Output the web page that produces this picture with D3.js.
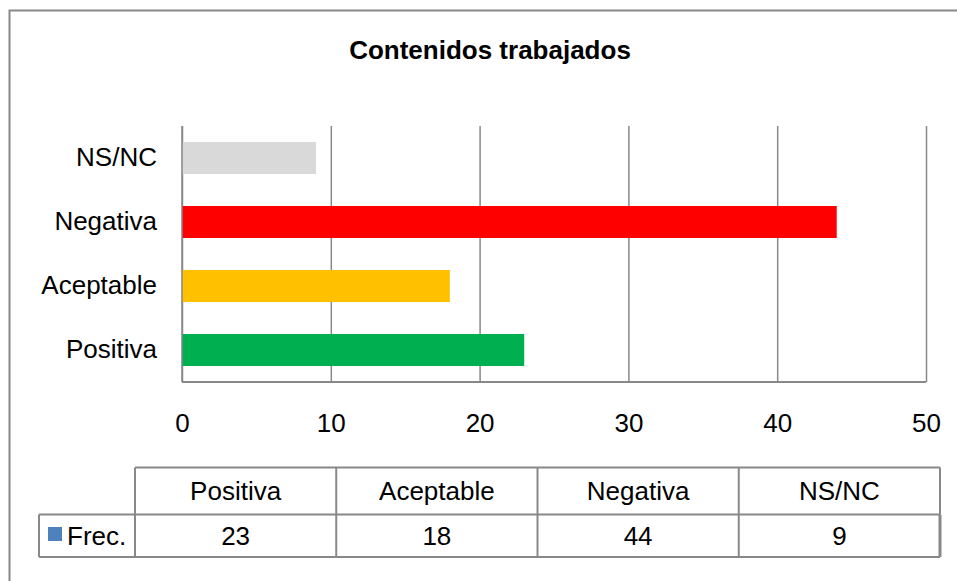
<!DOCTYPE html>
<html>
<head>
<meta charset="utf-8">
<script src="https://cdn.jsdelivr.net/npm/d3@7"></script>
<style>
  body { margin: 0; background: #fff; }
  svg { display: block; font-family: Arial, "Liberation Sans", sans-serif; }
</style>
</head>
<body>
<svg id="chart"></svg>
<script>
"use strict";

var categories = ["Positiva", "Aceptable", "Negativa", "NS/NC"];
var values = [23, 18, 44, 9];
var colors = ["#00B050", "#FFC000", "#FF0000", "#D9D9D9"];
var ticks = [0, 10, 20, 30, 40, 50];
var seriesName = "Frec.";
var title = "Contenidos trabajados";

var width = 957,
    height = 581;

var plot = { left: 182, right: 926, top: 126, bottom: 382 };
var table = { left: 135, right: 940, top: 467.5, mid: 514.5, bottom: 557, head: 39 };
var lineColor = "#888888";

var svg = d3.select("#chart").attr("width", width).attr("height", height);

svg.append("rect")
  .attr("width", width).attr("height", height)
  .attr("fill", "white");

// chart frame (only top and left show in the picture)
svg.append("rect")
  .attr("x", 9.5).attr("y", 10.5)
  .attr("width", 1000).attr("height", 1000)
  .attr("fill", "none")
  .attr("stroke", lineColor)
  .attr("stroke-width", 2);

svg.append("text")
  .attr("x", 490).attr("y", 59)
  .attr("text-anchor", "middle")
  .attr("font-size", 26)
  .attr("font-weight", "bold")
  .text(title);

var x = d3.scaleLinear().domain([0, 50]).range([plot.left, plot.right]);
var y = d3.scaleBand()
  .domain(categories.slice().reverse())
  .range([plot.top, plot.bottom])
  .paddingInner(0.5).paddingOuter(0.25);

// gridlines
var grid = svg.append("g")
  .attr("transform", "translate(0," + plot.bottom + ")")
  .call(d3.axisBottom(x).tickValues(ticks).tickSize(-(plot.bottom - plot.top)).tickFormat(""));
grid.select(".domain").remove();
grid.selectAll("line").attr("stroke", lineColor).attr("stroke-width", 1.5);

// bars
svg.append("g").selectAll("rect")
  .data(categories)
  .enter().append("rect")
  .attr("x", x(0))
  .attr("y", function(d){ return y(d); })
  .attr("width", function(d, i){ return x(values[i]) - x(0); })
  .attr("height", y.bandwidth())
  .attr("fill", function(d, i){ return colors[i]; });

// axis lines
svg.append("line")
  .attr("x1", plot.left).attr("x2", plot.left)
  .attr("y1", plot.top).attr("y2", plot.bottom)
  .attr("stroke", lineColor).attr("stroke-width", 1.5);
svg.append("line")
  .attr("x1", plot.left).attr("x2", plot.right)
  .attr("y1", plot.bottom).attr("y2", plot.bottom)
  .attr("stroke", lineColor).attr("stroke-width", 2);

// tick labels
var xAxis = svg.append("g")
  .attr("transform", "translate(0," + plot.bottom + ")")
  .call(d3.axisBottom(x).tickValues(ticks).tickSize(0).tickPadding(31.5));
xAxis.select(".domain").remove();
xAxis.selectAll("text").attr("font-size", 26).attr("font-family", null).attr("fill", "#000");

var yAxis = svg.append("g")
  .attr("transform", "translate(" + plot.left + ",0)")
  .call(d3.axisLeft(y).tickSize(0).tickPadding(25));
yAxis.select(".domain").remove();
yAxis.selectAll("text").attr("font-size", 26).attr("font-family", null).attr("fill", "#000");

// data table
var col = d3.scaleBand().domain(categories).range([table.left, table.right]);
var tg = svg.append("g").attr("stroke", lineColor).attr("stroke-width", 2);

tg.append("line").attr("x1", table.left).attr("x2", table.right).attr("y1", table.top).attr("y2", table.top);
tg.append("line").attr("x1", table.head).attr("x2", table.right).attr("y1", table.mid).attr("y2", table.mid);
tg.append("line").attr("x1", table.head).attr("x2", table.right).attr("y1", table.bottom).attr("y2", table.bottom);
tg.append("line").attr("x1", table.head).attr("x2", table.head).attr("y1", table.mid).attr("y2", table.bottom);
tg.selectAll(".vline")
  .data(categories)
  .enter().append("line")
  .attr("class", "vline")
  .attr("x1", function(d){ return col(d); })
  .attr("x2", function(d){ return col(d); })
  .attr("y1", table.top).attr("y2", table.bottom);
tg.append("line").attr("x1", table.right).attr("x2", table.right).attr("y1", table.top).attr("y2", table.mid);
tg.append("line").attr("x1", table.right).attr("x2", table.right).attr("y1", table.mid).attr("y2", table.bottom)
  .attr("stroke-width", 3);

svg.append("g").selectAll("text")
  .data(categories)
  .enter().append("text")
  .attr("x", function(d){ return col(d) + col.bandwidth() / 2; })
  .attr("y", 500)
  .attr("text-anchor", "middle")
  .attr("font-size", 26)
  .text(function(d){ return d; });

svg.append("g").selectAll("text")
  .data(categories)
  .enter().append("text")
  .attr("x", function(d){ return col(d) + col.bandwidth() / 2; })
  .attr("y", 545)
  .attr("text-anchor", "middle")
  .attr("font-size", 26)
  .text(function(d, i){ return values[i]; });

svg.append("rect")
  .attr("x", 48).attr("y", 527)
  .attr("width", 14).attr("height", 14)
  .attr("fill", "#4F81BD");
svg.append("text")
  .attr("x", 67).attr("y", 545)
  .attr("font-size", 26)
  .text(seriesName);
</script>
</body>
</html>
